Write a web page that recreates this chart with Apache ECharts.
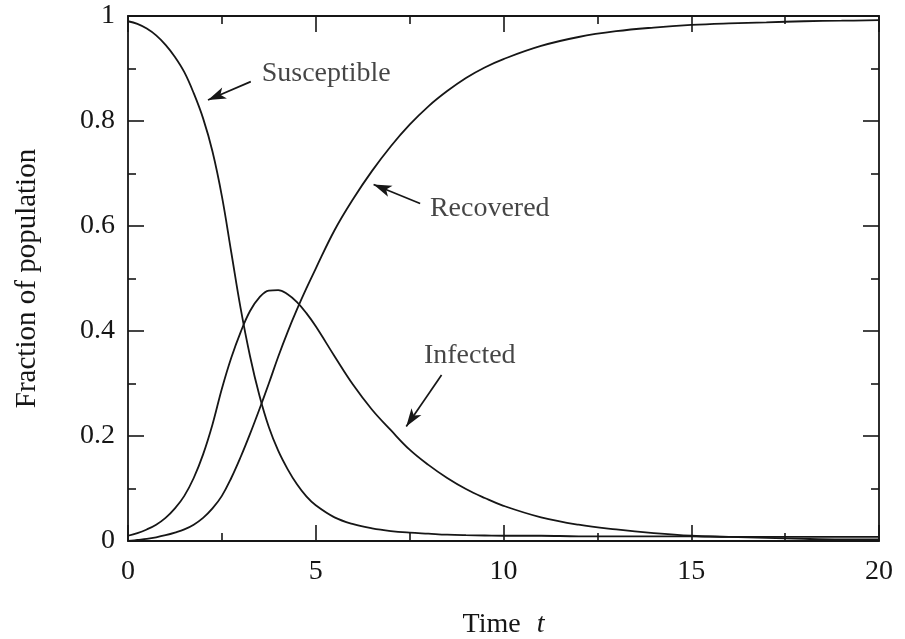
<!DOCTYPE html>
<html>
<head>
<meta charset="utf-8">
<script src="https://cdn.jsdelivr.net/npm/echarts@6/dist/echarts.min.js"></script>
<style>
  html, body { margin: 0; padding: 0; background: #ffffff; }
  #chart { width: 905px; height: 639px; }
</style>
</head>
<body>
<div id="chart"></div>
<script>
// ---- Data ----
const tValues = [0, 0.25, 0.5, 0.75, 1, 1.25, 1.5, 1.75, 2, 2.25, 2.5, 2.75, 3, 3.25, 3.5, 3.75, 4, 4.25, 4.5, 4.75, 5,
                 5.5, 6, 6.5, 7, 7.5, 8, 8.5, 9, 9.5, 10, 11, 12, 13, 14, 15, 16, 17, 18, 19, 20];
const susceptible = [0.99, 0.985, 0.976, 0.963, 0.945, 0.922, 0.893, 0.853, 0.805, 0.742, 0.657, 0.55, 0.443, 0.352, 0.277, 0.217, 0.172, 0.137, 0.108, 0.085, 0.068,
                     0.045, 0.032, 0.024, 0.019, 0.016, 0.014, 0.012, 0.011, 0.0105, 0.01, 0.01, 0.009, 0.009, 0.009, 0.009, 0.008, 0.008, 0.008, 0.008, 0.008];
const infected = [0.01, 0.015, 0.022, 0.031, 0.044, 0.062, 0.086, 0.12, 0.165, 0.222, 0.29, 0.349, 0.398, 0.438, 0.464, 0.477, 0.478, 0.47, 0.455, 0.434, 0.409,
                  0.352, 0.297, 0.25, 0.211, 0.174, 0.145, 0.12, 0.099, 0.082, 0.067, 0.045, 0.031, 0.022, 0.015, 0.01, 0.008, 0.006, 0.004, 0.003, 0.003];
const recovered = [0, 0.002, 0.004, 0.007, 0.011, 0.016, 0.022, 0.031, 0.044, 0.062, 0.086, 0.12, 0.16, 0.204, 0.251, 0.3, 0.351, 0.398, 0.441, 0.481, 0.519,
                   0.592, 0.652, 0.705, 0.752, 0.793, 0.828, 0.857, 0.882, 0.902, 0.918, 0.943, 0.96, 0.971, 0.978, 0.983, 0.986, 0.988, 0.99, 0.991, 0.992];

const xTicks = [0, 5, 10, 15, 20];
const yTicks = [0, 0.2, 0.4, 0.6, 0.8, 1];

const xAxisTitle = 'Time';
const xAxisVar = 't';
const yAxisTitle = 'Fraction of population';

// annotation texts and their anchor points (data coordinates)
const annotationNames = ['Susceptible', 'Recovered', 'Infected'];
const annotationTextAt = [[3.56, 0.891], [8.04, 0.634], [7.88, 0.354]];
const annotationArrowFrom = [[3.27, 0.875], [7.78, 0.643], [8.35, 0.316]];
const annotationArrowTo = [[2.13, 0.840], [6.54, 0.679], [7.41, 0.218]];

// ---- Build chart ----
const FONT = '"Liberation Serif", "Times New Roman", serif';
const INK = '#161616';
const TEXT = '#161616';

const pairs = (ys) => tValues.map((t, i) => [t, ys[i]]);

function arrow(i) {
  return {
    silent: true,
    animation: false,
    symbol: ['none', 'arrow'],
    label: { show: false },
    lineStyle: { type: 'solid', color: INK, width: 1.7 },
    itemStyle: { color: INK },
    emphasis: { disabled: true },
    data: [[
      { coord: annotationArrowFrom[i], symbol: 'none' },
      { coord: annotationArrowTo[i], symbol: 'arrow', symbolSize: [9, 18] }
    ]]
  };
}

function curve(name, ys, i) {
  return {
    name: name,
    type: 'line',
    data: pairs(ys),
    showSymbol: false,
    smooth: 0.4,
    clip: true,
    lineStyle: { color: INK, width: 1.8 },
    emphasis: { disabled: true },
    markLine: arrow(i)
  };
}

const tickStyle = { color: INK, width: 1.6 };

const commonAxis = {
  axisLine: { show: true, onZero: false, lineStyle: { color: INK, width: 1.8 } },
  axisTick: { show: true, inside: true, length: 16, lineStyle: tickStyle },
  minorTick: { show: true, splitNumber: 2, length: 8, lineStyle: tickStyle },
  splitLine: { show: false },
  minorSplitLine: { show: false }
};

const chart = echarts.init(document.getElementById('chart'), null, { renderer: 'canvas' });

chart.setOption({
  animation: false,
  backgroundColor: '#ffffff',
  grid: { left: 128, right: 26, top: 16, bottom: 98, containLabel: false, outerBoundsMode: 'none' },
  xAxis: [
    Object.assign({}, commonAxis, {
      type: 'value',
      position: 'bottom',
      min: xTicks[0],
      max: xTicks[xTicks.length - 1],
      interval: xTicks[1] - xTicks[0],
      axisLabel: {
        show: true, margin: 17, color: TEXT, fontFamily: FONT, fontSize: 28,
        formatter: (v) => String(v)
      },
      name: '{a|' + xAxisTitle + '}{b|' + xAxisVar + '}',
      nameLocation: 'middle',
      nameGap: 70,
      nameTextStyle: {
        rich: {
          a: { fontFamily: FONT, fontSize: 28, color: TEXT },
          b: { fontFamily: FONT, fontSize: 28, fontStyle: 'italic', color: TEXT, padding: [0, 0, 0, 16] }
        }
      }
    }),
    Object.assign({}, commonAxis, {
      type: 'value',
      position: 'top',
      min: xTicks[0],
      max: xTicks[xTicks.length - 1],
      interval: xTicks[1] - xTicks[0],
      axisLabel: { show: false }
    })
  ],
  yAxis: [
    Object.assign({}, commonAxis, {
      type: 'value',
      position: 'left',
      min: yTicks[0],
      max: yTicks[yTicks.length - 1],
      interval: yTicks[1] - yTicks[0],
      axisLabel: {
        show: true, margin: 13, color: TEXT, fontFamily: FONT, fontSize: 28,
        formatter: (v) => (v === 0 || v === 1) ? String(v) : v.toFixed(1)
      },
      name: yAxisTitle,
      nameLocation: 'middle',
      nameGap: 86,
      nameTextStyle: { fontFamily: FONT, fontSize: 29, color: TEXT }
    }),
    Object.assign({}, commonAxis, {
      type: 'value',
      position: 'right',
      min: yTicks[0],
      max: yTicks[yTicks.length - 1],
      interval: yTicks[1] - yTicks[0],
      axisLabel: { show: false }
    })
  ],
  series: [
    curve(annotationNames[0], susceptible, 0),
    curve(annotationNames[1], recovered, 1),
    curve(annotationNames[2], infected, 2),
    {
      type: 'scatter',
      symbolSize: 0,
      silent: true,
      emphasis: { disabled: true },
      data: annotationNames.map((n, i) => ({ name: n, value: annotationTextAt[i] })),
      label: {
        show: true,
        position: 'right',
        distance: 0,
        formatter: '{b}',
        fontFamily: FONT,
        fontSize: 28,
        color: TEXT
      }
    }
  ]
});
</script>
</body>
</html>
